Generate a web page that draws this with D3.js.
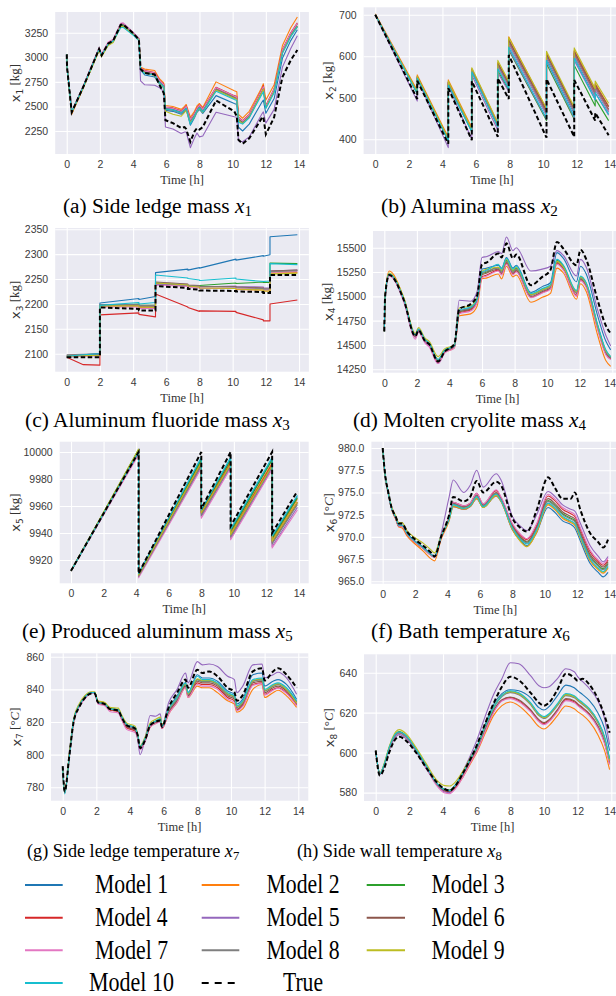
<!DOCTYPE html>
<html>
<head>
<meta charset="utf-8">
<script src="https://d3js.org/d3.v7.min.js"></script>
<style>
  body { margin: 0; background: #fff; }
  svg { display: block; }
</style>
</head>
<body>
<svg id="fig" width="616" height="996"></svg>
<script>
// ---------- shared series info ----------
const modelNames = ["Model 1","Model 2","Model 3","Model 4","Model 5","Model 6","Model 7","Model 8","Model 9","Model 10"];
const modelColors = ["#1f77b4","#ff7f0e","#2ca02c","#d62728","#9467bd","#8c564b","#e377c2","#7f7f7f","#bcbd22","#17becf"];
const hourTicks = [0, 2, 4, 6, 8, 10, 12, 14];

// ---------- (a) side ledge mass x1 [kg] ----------
const tA = [0,0.02,0.3,1.0,1.95,2.1,2.5,2.8,3.25,3.4,4.0,4.35,4.45,4.7,5.3,5.6,5.85,5.95,6.4,6.9,7.1,7.2,7.45,7.7,7.85,8.0,8.2,9.0,10.1,10.25,10.35,10.6,11.0,11.75,11.85,12.0,12.5,13.0,13.5,13.9];
const trueA = [3030,2900,2440,2700,3085,3020,3140,3170,3330,3335,3245,3180,2880,2840,2825,2715,2635,2360,2330,2280,2290,2270,2140,2245,2280,2265,2290,2560,2450,2400,2160,2120,2175,2380,2395,2215,2390,2800,2970,3075];
const a1 = [3030,2900,2440,2700,3090,3020,3140,3170,3320,3325,3235,3175,2870,2820,2800,2725,2690,2460,2450,2420,2450,2470,2310,2385,2440,2470,2430,2610,2530,2520,2290,2250,2320,2540,2565,2430,2580,2990,3170,3280];
const a2 = [3030,2900,2420,2690,3080,3015,3135,3165,3325,3330,3240,3185,2900,2880,2865,2780,2740,2510,2500,2470,2500,2520,2390,2450,2505,2530,2490,2750,2660,2650,2420,2380,2450,2690,2730,2565,2720,3120,3300,3410];
const a3 = [3030,2900,2445,2705,3080,3015,3130,3160,3320,3325,3235,3180,2885,2850,2830,2750,2710,2480,2470,2440,2470,2490,2355,2415,2470,2500,2460,2675,2590,2580,2370,2335,2400,2650,2685,2495,2660,3055,3225,3320];
const a4 = [3030,2900,2440,2705,3090,3025,3145,3175,3335,3340,3250,3190,2890,2865,2845,2765,2725,2495,2485,2455,2485,2505,2370,2430,2485,2515,2475,2695,2610,2600,2390,2355,2420,2670,2710,2510,2680,3080,3250,3350];
const a5 = [3030,2900,2440,2700,3085,3020,3140,3170,3340,3345,3250,3190,2760,2720,2715,2690,2650,2290,2270,2225,2240,2240,2080,2180,2230,2190,2200,2440,2395,2390,2150,2140,2190,2420,2445,2330,2470,2900,3090,3220];
const a6 = [3030,2900,2442,2703,3088,3022,3142,3172,3332,3337,3247,3188,2885,2855,2835,2755,2715,2485,2478,2448,2478,2498,2362,2422,2478,2508,2468,2685,2600,2590,2380,2345,2410,2660,2695,2500,2670,3070,3240,3340];
const a7 = [3030,2900,2445,2712,3100,3035,3155,3185,3345,3350,3255,3195,2890,2860,2840,2760,2720,2490,2480,2450,2480,2500,2365,2425,2480,2510,2470,2690,2605,2595,2385,2350,2415,2665,2700,2505,2675,3075,3245,3345];
const a8 = [3030,2900,2442,2702,3085,3020,3138,3168,3328,3333,3243,3185,2880,2845,2825,2745,2705,2470,2460,2430,2460,2480,2345,2405,2460,2490,2450,2670,2585,2575,2360,2330,2395,2645,2680,2490,2655,3050,3220,3315];
const a9 = [3030,2900,2435,2690,3070,3005,3120,3150,3310,3315,3230,3175,2875,2840,2815,2735,2695,2450,2420,2400,2440,2460,2330,2395,2450,2480,2440,2665,2580,2570,2355,2325,2390,2640,2675,2485,2650,3045,3215,3310];
const a10 = [3030,2900,2440,2700,3085,3020,3135,3165,3300,3305,3225,3170,2880,2835,2820,2740,2700,2475,2465,2435,2465,2480,2320,2400,2455,2485,2445,2655,2570,2560,2340,2320,2385,2620,2650,2480,2640,3040,3210,3310];
const ticksA = [2250, 2500, 2750, 3000, 3250];

// ---------- (b) alumina mass x2 [kg] ----------
const tB = [0,2.5,2.5,4.35,4.35,5.75,5.75,7.3,7.3,7.95,7.95,10.2,10.2,11.85,11.85,13.1,13.1,13.9];
const trueB = [700,497,541,389,523,398,540,406,547,497,603,404,545,406,543,445,464,410];
const b1 = [700,511,548,398,535,420,565,432,575,527,628,458,595,462,600,502,520,465];
const b2 = [702,518,555,405,543,428,570,438,585,538,647,472,608,475,615,518,535,480];
const b3 = [700,510,547,397,532,419,563,430,565,518,615,445,582,448,578,480,498,445];
const b4 = [700,513,550,400,537,422,567,435,580,532,637,466,602,470,608,510,528,472];
const b5 = [700,492,545,380,528,400,555,422,560,515,618,448,588,452,590,495,512,458];
const b6 = [700,514,551,401,538,423,568,436,583,535,640,470,605,473,612,515,532,478];
const b7 = [700,512,549,399,536,421,566,434,575,528,630,460,598,465,603,505,522,467];
const b8 = [700,512,549,399,536,421,566,433,578,530,633,463,600,467,605,508,525,470];
const b9 = [700,515,552,402,540,425,572,440,590,540,645,475,612,478,620,522,540,487];
const b10 = [700,510,547,397,530,418,562,430,570,522,622,450,590,455,595,495,512,460];
const ticksB = [400, 500, 600, 700];

// ---------- (c) aluminum fluoride mass x3 [kg] ----------
const tC = [0,1.0,2.0,2.0,4.35,4.35,5.35,5.35,7.3,7.3,8.0,8.0,10.2,10.2,11.85,11.85,12.25,12.25,13.9];
const trueC = [2093,2093,2093,2193,2190,2187,2187,2236,2232,2230,2229,2227,2226,2225,2224,2222,2222,2258,2258];
const c1 = [2092,2098,2101,2202,2211,2209,2215,2263,2270,2268,2273,2272,2290,2288,2297,2296,2299,2335,2339];
const c2 = [2095,2096,2097,2195,2196,2193,2193,2241,2237,2235,2234,2232,2231,2229,2228,2226,2226,2262,2263];
const c3 = [2094,2096,2098,2196,2200,2198,2197,2240,2237,2236,2237,2237,2242,2241,2244,2243,2243,2282,2281];
const c4 = [2093,2078,2077,2178,2182,2179,2174,2220,2194,2193,2185,2186,2185,2183,2168,2166,2166,2200,2208];
const c5 = [2097,2098,2099,2197,2197,2195,2194,2240,2237,2235,2235,2234,2236,2235,2234,2232,2232,2266,2268];
const c6 = [2096,2097,2098,2198,2198,2196,2196,2244,2240,2238,2237,2235,2235,2234,2232,2230,2230,2266,2268];
const c7 = [2094,2095,2096,2194,2194,2191,2191,2238,2235,2233,2232,2231,2232,2231,2230,2228,2228,2264,2265];
const c8 = [2098,2099,2100,2199,2199,2197,2197,2243,2239,2237,2236,2235,2234,2233,2231,2230,2230,2265,2267];
const c9 = [2095,2096,2097,2196,2196,2194,2193,2242,2238,2236,2234,2232,2231,2230,2228,2226,2226,2260,2262];
const c10 = [2095,2098,2100,2197,2203,2200,2203,2258,2252,2251,2248,2247,2252,2250,2245,2245,2246,2281,2279];
const ticksC = [2100, 2150, 2200, 2250, 2300, 2350];

// ---------- (d) molten cryolite mass x4 [kg] ----------
const tD = [0,0.05,0.3,1.2,1.9,2.1,2.5,2.75,3.3,3.7,4.3,4.6,5.3,5.7,6.0,6.3,7.0,7.2,7.5,7.9,8.1,9.0,9.7,10.2,10.6,11.0,11.8,12.05,12.4,13.1,13.6,13.9];
const trueD = [14640,15000,15220,14960,14590,14650,14540,14510,14330,14430,14510,14870,14920,15010,15330,15350,15440,15400,15545,15390,15430,15115,15200,15270,15560,15490,15320,15480,15380,14960,14700,14620];
const dm1 = [14640,15000,15225,14965,14600,14660,14545,14515,14340,14440,14490,14850,14880,14980,15280,15290,15320,15290,15400,15290,15320,15040,15100,15140,15450,15390,15150,15310,15230,14800,14540,14450];
const dm2 = [14640,15010,15260,14980,14600,14660,14550,14500,14320,14420,14470,14800,14820,14900,15180,15190,15230,15180,15310,15200,15220,14940,14990,15030,15290,15240,14970,15130,15050,14600,14340,14280];
const dm3 = [14640,15000,15230,14970,14605,14665,14555,14520,14350,14445,14490,14840,14870,14960,15230,15250,15300,15260,15370,15260,15290,15020,15070,15110,15370,15310,15050,15200,15130,14700,14440,14370];
const dm4 = [14640,15000,15225,14960,14580,14645,14535,14500,14320,14425,14480,14830,14860,14950,15200,15220,15270,15230,15340,15230,15260,14990,15040,15080,15340,15280,15010,15170,15100,14670,14410,14355];
const dm5 = [14640,15000,15220,14955,14580,14640,14530,14495,14310,14420,14490,14960,14950,15050,15400,15410,15460,15440,15610,15470,15500,15260,15280,15310,15470,15420,15210,15380,15300,14860,14600,14490];
const dm6 = [14640,15000,15225,14965,14590,14655,14545,14510,14330,14430,14485,14840,14870,14960,15220,15240,15280,15240,15350,15240,15270,15000,15050,15090,15350,15290,15030,15180,15110,14680,14420,14360];
const dm7 = [14640,14990,15210,14940,14560,14630,14520,14480,14310,14415,14470,14820,14850,14940,15190,15210,15260,15220,15330,15220,15250,14985,15035,15075,15330,15270,15000,15160,15090,14660,14400,14350];
const dm8 = [14640,15000,15230,14970,14600,14660,14550,14515,14340,14440,14485,14850,14880,14970,15240,15260,15290,15250,15360,15250,15280,15010,15060,15100,15360,15300,15040,15190,15120,14690,14430,14370];
const dm9 = [14640,15005,15240,14985,14620,14680,14570,14540,14380,14460,14500,14880,14900,14990,15260,15280,15300,15270,15380,15270,15300,15020,15070,15110,15360,15300,15050,15200,15130,14700,14440,14380];
const dm10 = [14640,15000,15230,14970,14605,14665,14555,14520,14350,14445,14490,14860,14890,14970,15250,15270,15330,15280,15390,15280,15310,15030,15080,15120,15380,15320,15060,15210,15140,14710,14450,14380];
const ticksD = [14250, 14500, 14750, 15000, 15250, 15500];

// ---------- (e) produced aluminum mass x5 [kg] ----------
const tE = [0,4.15,4.15,8.0,8.0,9.8,9.8,12.35,12.35,13.9];
const trueE = [9912,10000,9910,10000,9958,10000,9945,10000,9940,9971];
const e1 = [9912,10000,9910,9995,9957,9995,9942,9995,9937,9967];
const e2 = [9912,10001,9909,9993,9955,9993,9940,9992,9935,9965];
const e3 = [9912,10002,9909,9994,9956,9994,9941,9994,9936,9966];
const e4 = [9912,10000,9909,9992,9955,9992,9939,9991,9934,9963];
const e5 = [9912,9999,9908,9989,9952,9989,9936,9988,9930,9959];
const e6 = [9912,10000,9909,9991,9954,9991,9938,9990,9933,9962];
const e7 = [9912,9998,9907,9988,9951,9988,9935,9987,9929,9957];
const e8 = [9912,10000,9908,9990,9953,9990,9937,9989,9932,9961];
const e9 = [9912,10002,9909,9992,9955,9991,9939,9990,9934,9963];
const e10 = [9912,10000,9910,9996,9957,9996,9943,9996,9938,9968];
const ticksE = [9920, 9940, 9960, 9980, 10000];

// ---------- (f) bath temperature x6 [°C] ----------
const tF = [0,0.15,0.35,0.55,0.8,1.0,1.2,1.5,2.0,2.5,3.0,3.2,3.6,4.1,4.35,5.0,5.4,5.8,6.2,7.0,7.3,8.0,8.5,8.9,9.5,10.2,10.6,11.1,11.6,11.85,12.2,12.8,13.3,13.6,13.9];
const trueF = [980,977.0,975.0,973.3,972.3,971.5,971.5,970.6,969.7,969.0,968.2,967.8,970.0,972.5,974.5,974.0,974.5,976.3,975.0,976.2,975.8,972.1,971.0,970.6,973.0,976.7,975.6,974.3,974.3,975.0,973.0,970.4,969.4,968.8,969.7];
const f1 = [980,976.9,974.9,973.2,972.1,971.3,971.3,970.4,969.5,968.8,968.0,967.7,969.9,971.9,973.4,973.1,973.4,974.3,973.3,974.6,974.0,970.8,969.6,969.0,970.5,973.3,972.8,971.8,971.4,971.0,969.5,967.0,966.0,965.5,966.0];
const f2 = [980,976.9,974.8,973.1,972.0,971.1,971.0,970.1,969.2,968.4,967.5,967.3,969.7,971.8,973.4,973.1,973.4,974.3,973.3,974.6,974.0,970.8,969.5,968.9,970.5,973.6,973.1,972.1,971.6,971.3,969.8,967.3,966.3,965.9,966.5];
const f3 = [980,977.0,974.9,973.2,972.2,971.3,971.3,970.4,969.5,968.8,968.0,967.8,970.0,972.1,973.7,973.3,973.6,974.6,973.5,974.9,974.2,971.2,969.9,969.4,971.0,974.1,973.6,972.6,972.1,971.8,970.3,967.8,966.8,966.4,967.0];
const f4 = [980,977.0,974.9,973.2,972.1,971.2,971.2,970.3,969.4,968.7,967.9,967.7,969.9,972.3,973.9,973.5,973.8,974.9,973.7,975.2,974.4,971.4,970.2,969.7,971.3,974.6,974.1,973.1,972.6,972.3,970.8,968.3,967.2,966.8,967.4];
const f5 = [980,977.0,974.9,973.2,972.2,971.3,971.3,970.4,969.5,968.8,968.0,967.8,970.3,974.5,976.4,975.0,975.8,977.5,975.6,977.1,976.4,972.3,971.2,970.7,972.5,975.1,974.6,973.6,973.1,972.9,971.5,969.0,967.8,967.2,967.8];
const f6 = [980,977.0,974.9,973.2,972.1,971.2,971.2,970.3,969.4,968.7,967.9,967.7,969.9,972.2,973.8,973.4,973.7,974.7,973.6,975.0,974.3,971.3,970.0,969.5,971.1,974.3,973.8,972.8,972.3,972.0,970.5,968.0,967.0,966.6,967.2];
const f7 = [980,977.0,974.9,973.2,972.1,971.2,971.2,970.3,969.4,968.7,967.9,967.7,969.9,972.3,973.9,973.5,973.8,974.9,973.7,975.3,974.5,971.5,970.3,969.8,971.5,974.8,974.3,973.3,972.8,972.5,971.0,968.5,967.4,967.0,967.6];
const f8 = [980,977.0,974.9,973.2,972.2,971.3,971.3,970.4,969.5,968.8,968.0,967.8,970.0,972.1,973.7,973.3,973.6,974.6,973.5,974.9,974.2,971.1,969.8,969.3,970.9,974.0,973.5,972.5,972.0,971.7,970.2,967.7,966.7,966.3,966.9];
const f9 = [980,977.0,975.0,973.4,972.4,971.6,971.6,970.7,969.9,969.3,968.5,968.2,970.1,972.0,973.5,973.2,973.5,974.4,973.3,974.7,974.0,970.9,969.5,968.9,970.6,973.7,973.2,972.2,971.7,971.4,969.9,967.4,966.4,966.0,966.6];
const f10 = [980,977.0,974.9,973.2,972.2,971.3,971.3,970.4,969.5,968.8,968.0,967.8,970.0,972.0,973.6,973.2,973.5,974.5,973.4,974.8,974.1,971.0,969.7,969.2,970.8,973.8,973.3,972.3,971.8,971.5,970.0,967.5,966.5,966.1,966.7];
const ticksF = [965, 967.5, 970, 972.5, 975, 977.5, 980];

// ---------- (g) side ledge temperature x7 [°C] ----------
const tG = [0,0.12,0.4,0.65,1.0,1.3,1.7,1.9,2.1,2.5,2.8,3.3,3.5,3.8,4.3,4.45,4.6,4.9,5.2,5.5,5.8,5.9,6.3,6.8,7.3,7.45,8.0,8.3,8.7,9.2,9.8,10.2,10.35,10.7,11.3,11.85,12.0,12.5,12.8,13.3,13.9];
const trueG = [793,777.5,800,820,829.5,834.5,837.5,837.5,832,831,828,827,823,818,816,812,804,809,818,820,821,817,829,838,846,841,852,850,851,848,841,838.5,833,836.5,851,853,845.5,851,853,849,841];
const g1 = [792,777,800,821,830.5,835,838,838,832,831,828,827,823,818,816,812,805,810,818,820,821.5,817,828,836,844,838,849,847,847,845,839,837,831,834,849,850,842,845,846,843,834];
const g2 = [792,776.5,799,820,830,834.5,837.5,837.5,831.5,830.5,827.5,826.5,822,817,815,811,804,809,817,819,820.5,816,825,832,841,835,842,841,841,838,833,831,826,828,840,843,835,838,839.5,836,829];
const g3 = [792,777,800,821,830.5,835.5,838,838,832.5,831.5,828.5,827.5,823.5,818.5,816.5,812.5,805,810,818.5,820.5,822,817.5,827,834,843,837,846,845,845,843,837,835,829,832,845,846,839,842,843,840,832.5];
const g4 = [792,777,799.5,820.5,830,835,837.5,837.5,831.5,830.5,827.5,826.5,822,816.5,814.5,810.5,803.5,808.5,817,819.5,820.5,816,826,833,842,836,844,843,843,841,835,833,827.5,830,843,844,837,840,841,838,830.5];
const g5 = [792,777,800,821,830.5,835,838,838,832,831,828,827,823,817.5,815,810,800,810,824,823.5,825,818,832,840,850,844,857,855,855.5,854,848,846,838,842,855,855.5,847,849,850.5,847,837];
const g6 = [792,777,800,820.5,830,835,837.5,837.5,832,831,828,826.5,822.5,817,815,811,804,809,817.5,819.5,821,816.5,826,833,842,836,845,844,844,842,836,834,828,831,844,845,838,841,842,839,831];
const g7 = [792,776.5,799,820,829.5,834,837.5,837.5,831,830,826.5,825.5,821.5,815.5,813.5,810,803,808,817,819,820,816,825,832,841,835,843,842,842,840,834,832,827,829.5,842.5,843.5,836.5,839.5,840.5,837.5,830];
const g8 = [792,777,800,821,830.5,835,838,838,832,831,828,827,823,818,816,812,804.5,809.5,818,820,821.5,817,827,834,843,837,846,845,845,843,837,835,829,832,845,846,839,842,843,840,832];
const g9 = [792,777,801,822,831.5,836,838.5,838.5,833,832,829,828.5,824.5,819.5,817.5,813,805.5,811,819.5,821.5,823,818.5,828,835,843.5,837.5,846.5,845.5,845.5,843.5,837.5,835.5,829.5,832.5,845.5,846.5,839.5,842.5,843.5,840,831.5];
const g10 = [792,776,799,821,830.5,835,838,838,832,831,828,827.5,823.5,818.5,816.5,812.5,805,810,818.5,820.5,822,817.5,828,835,844,838,848,846,846,844,838,836,830,833,846,847,840,843,844,841,833];
const ticksG = [780, 800, 820, 840, 860];

// ---------- (h) side wall temperature x8 [°C] ----------
const tH = [0,0.25,0.5,0.8,1.2,1.4,1.8,2.4,3.0,3.6,4.1,4.4,4.7,5.2,5.7,6.0,6.5,7.0,7.5,8.0,8.5,9.2,9.7,10.0,10.3,10.8,11.3,11.8,12.0,12.3,12.7,13.2,13.6,13.9];
const trueH = [601,588.5,592,600,607,608,606,600,592.5,585.5,581.8,581,583,590,598,603.5,614.5,624.5,633,638,636.3,630,625,623.5,625,631.5,639.5,637.5,636,637,634,627,618.5,610];
const h1 = [601,589.5,593.5,602,609,610,608,601,593,584.5,581,580.7,583,590,598.5,603,614,624,629.5,631.5,631,627.5,622.5,621.3,623,628.5,633.8,632.5,631,629,626,620,612,601];
const h2 = [601,589.5,593.5,602,609,610,608,601,593,584.5,581,580.5,582,588,595.5,600,609.5,618.5,623.5,625.3,623.5,618,613,611.8,613.5,618.5,623.3,622,620.5,618.8,615.5,609,601,591.5];
const h3 = [601,589.5,594,602.5,609.5,610.5,608.5,601.5,593.5,585,581.7,581.3,583.5,590,598,602.5,613,622.5,628.5,630.5,629.5,624.5,619,617.5,619,624,629,628,626.5,624.5,621.5,615.5,607.5,596.5];
const h4 = [601,589.5,593.5,602,609,610,608,601,593,584.3,580.8,580.3,582.2,588.5,596.5,601,611,620.5,626,627.5,626,621,616,614.5,616,621,626.5,625.5,624,622,619,613,605,594.5];
const h5 = [601,589,593,601,608,609,607,600.5,592,584.5,580.3,580,583,591,600,606,618,629,637,645,644.5,638.5,633.5,632.5,633,637,642,640.5,638,635.5,632,626,617,604];
const h6 = [601,589.5,593.5,602,609,610,608,601,593,584.5,581,580.5,582.5,589,597,601.5,611.5,621,626.5,627.8,626.5,621.5,616.5,615,616.5,621.5,627,626,624.5,622.5,619.5,613.5,605.5,595];
const h7 = [601,589.5,593.5,602,609,610,608,600.8,592.5,583.8,579.8,579.5,581.5,588,596,600.5,610.5,620,625.8,627,625.5,620.5,615.5,614,615.5,620.5,626,625,623.5,621.5,618.5,612.5,604.5,594];
const h8 = [601,589.5,593.5,602,609,610,608,601,593,584.8,581.3,581,583.2,590,598,602.5,612.5,622,628,630,629,624,618.5,617,618.5,623.5,628.5,627.5,626,624,621,615,607,596];
const h9 = [601,589.5,594.5,603,610.5,611.5,609.5,602.5,594.5,586.5,583.5,583.3,585,591,598.5,602.5,613,622.5,628.5,630.5,629.5,624.5,619,617.5,619,624,629,628,626.5,624.5,621.5,615.5,607.5,596];
const h10 = [601,589.5,594,602.5,609.5,610.3,608.5,601.5,593.5,585,581.5,581,583.5,590,598,602.5,613,622.5,628.5,631,630,625,619.5,618,619.5,624.5,629.6,628.5,627,625,622,616,608,597];
const ticksH = [580, 600, 620, 640];

// ---------- layout ----------
const panels = [
  { t: tA, truth: trueA, models: [a1,a2,a3,a4,a5,a6,a7,a8,a9,a10], yTicks: ticksA, fmt: "d", curve: d3.curveLinear,
    left: 55.2, right: 308.9, top: 12, bottom: 154, yDomain: [2016, 3461], ySub: "1", unit: "kg", labX: 15.5,
    caption: "(a) Side ledge mass ", cx0: 63, cx1: 252, cy: 213, cs: 20 },
  { t: tB, truth: trueB, models: [b1,b2,b3,b4,b5,b6,b7,b8,b9,b10], yTicks: ticksB, fmt: "d", curve: d3.curveLinear,
    left: 363.6, right: 620.3, top: 7.3, bottom: 154, yDomain: [364.6, 717.8], ySub: "2", unit: "kg", labX: 328.5,
    caption: "(b) Alumina mass ", cx0: 381, cx1: 558, cy: 213, cs: 20 },
  { t: tC, truth: trueC, models: [c1,c2,c3,c4,c5,c6,c7,c8,c9,c10], yTicks: ticksC, fmt: "d", curve: d3.curveLinear,
    left: 55.2, right: 308.9, top: 228, bottom: 371.7, yDomain: [2063.8, 2352.6], ySub: "3", unit: "kg", labX: 15.8,
    caption: "(c) Aluminum fluoride mass ", cx0: 25, cx1: 290, cy: 427, cs: 20 },
  { t: tD, truth: trueD, models: [dm1,dm2,dm3,dm4,dm5,dm6,dm7,dm8,dm9,dm10], yTicks: ticksD, fmt: "d", curve: d3.curveMonotoneX,
    left: 373, right: 622, top: 231, bottom: 372.7, yDomain: [14215, 15672], ySub: "4", unit: "kg", labX: 328,
    caption: "(d) Molten cryolite mass ", cx0: 353, cx1: 586, cy: 427, cs: 20 },
  { t: tE, truth: trueE, models: [e1,e2,e3,e4,e5,e6,e7,e8,e9,e10], yTicks: ticksE, fmt: "d", curve: d3.curveLinear,
    left: 59.7, right: 308.7, top: 441.7, bottom: 583.3, yDomain: [9902.8, 10007.6], ySub: "5", unit: "kg", labX: 15.8,
    caption: "(e) Produced aluminum mass ", cx0: 22, cx1: 293, cy: 638, cs: 20 },
  { t: tF, truth: trueF, models: [f1,f2,f3,f4,f5,f6,f7,f8,f9,f10], yTicks: ticksF, fmt: ".1f", curve: d3.curveMonotoneX,
    left: 371.4, right: 619.3, top: 441.7, bottom: 583.7, yDomain: [964.73, 980.71], ySub: "6", unit: "C", labX: 329.7,
    caption: "(f) Bath temperature ", cx0: 371, cx1: 570, cy: 638, cs: 20 },
  { t: tG, truth: trueG, models: [g1,g2,g3,g4,g5,g6,g7,g8,g9,g10], yTicks: ticksG, fmt: "d", curve: d3.curveMonotoneX,
    left: 51, right: 308.3, top: 653.3, bottom: 800.7, yDomain: [771.8, 862.1], ySub: "7", unit: "C", labX: 16,
    caption: "(g) Side ledge temperature ", cx0: 27, cx1: 240, cy: 857, cs: 18.5 },
  { t: tH, truth: trueH, models: [h1,h2,h3,h4,h5,h6,h7,h8,h9,h10], yTicks: ticksH, fmt: "d", curve: d3.curveMonotoneX,
    left: 364, right: 621.3, top: 654.3, bottom: 801, yDomain: [575.8, 649.2], ySub: "8", unit: "C", labX: 329.7,
    caption: "(h) Side wall temperature ", cx0: 297, cx1: 502, cy: 857, cs: 18.5 }
];

const SERIF = "'Liberation Serif', 'Times New Roman', serif";
const SANS = "'Liberation Sans', Arial, sans-serif";
const MATH = "'DejaVu Sans', 'Liberation Sans', sans-serif";
const PAGE_W = 616;

const svg = d3.select("#fig");
svg.append("rect").attr("width", PAGE_W).attr("height", 996).attr("fill", "#ffffff");
const defs = svg.append("defs");

// stretch or squeeze a text element horizontally so it spans [x0, x1]
function spanText(sel, x0, x1) {
  const bb = sel.node().getBBox();
  const s = (x1 - x0) / bb.width;
  sel.attr("transform", `translate(${x0},0) scale(${s},1) translate(${-bb.x},0)`);
}

panels.forEach((p, i) => {
  p.models.forEach(m => { if (m.length !== p.t.length) throw new Error("length mismatch in panel " + i); });
  if (p.truth.length !== p.t.length) throw new Error("truth length mismatch in panel " + i);

  const x = d3.scaleLinear().domain([-0.695, 14.595]).range([p.left, p.right]);
  const y = d3.scaleLinear().domain(p.yDomain).range([p.bottom, p.top]);
  const g = svg.append("g");

  defs.append("clipPath").attr("id", "clip" + i)
    .append("rect").attr("x", p.left).attr("y", p.top)
    .attr("width", p.right - p.left).attr("height", p.bottom - p.top);

  g.append("rect").attr("x", p.left).attr("y", p.top)
    .attr("width", p.right - p.left).attr("height", p.bottom - p.top)
    .attr("fill", "#eaeaf2");

  // x axis with vertical grid lines
  const xa = g.append("g").attr("transform", `translate(0,${p.bottom})`)
    .call(d3.axisBottom(x).tickValues(hourTicks).tickFormat(d3.format("d"))
      .tickSize(-(p.bottom - p.top)).tickPadding(6.5));
  // y axis with horizontal grid lines
  const ya = g.append("g").attr("transform", `translate(${p.left},0)`)
    .call(d3.axisLeft(y).tickValues(p.yTicks).tickFormat(d3.format(p.fmt))
      .tickSize(-(p.right - p.left)).tickPadding(7));
  [xa, ya].forEach(ax => {
    ax.select(".domain").remove();
    ax.selectAll(".tick line").attr("stroke", "#ffffff").attr("stroke-width", 1.1);
    ax.selectAll(".tick text").attr("fill", "#3a3a3a")
      .style("font-family", SANS).style("font-size", "10.5px");
  });
  // keep the last hour label inside the page edge
  xa.selectAll(".tick").each(function (d) {
    const txt = d3.select(this).select("text");
    const w = txt.node().getComputedTextLength();
    const overflow = x(d) + w / 2 - (PAGE_W - 0.5);
    if (overflow > 0) txt.attr("x", -overflow);
  });

  const line = d3.line().curve(p.curve).x((d, k) => x(p.t[k])).y(d => y(d));
  const lines = g.append("g").attr("clip-path", `url(#clip${i})`);
  p.models.forEach((m, k) => {
    lines.append("path").attr("d", line(m)).attr("fill", "none")
      .attr("stroke", modelColors[k]).attr("stroke-width", 1.1)
      .attr("stroke-linejoin", "round");
  });
  lines.append("path").attr("d", line(p.truth)).attr("fill", "none")
    .attr("stroke", "#000").attr("stroke-width", 2)
    .attr("stroke-dasharray", "4.5,2.5");

  // x label
  g.append("text").attr("x", (p.left + p.right) / 2)
    .attr("y", p.bottom + 30).attr("text-anchor", "middle")
    .style("font-family", SERIF).style("font-size", "12.5px").attr("fill", "#333")
    .text("Time [h]");

  // y label
  const yl = g.append("text")
    .attr("transform", `translate(${p.labX},${(p.top + p.bottom) / 2}) rotate(-90)`)
    .attr("text-anchor", "middle").attr("dy", "0.35em")
    .style("font-family", SERIF).style("font-size", "13px").attr("fill", "#333");
  yl.append("tspan").style("font-family", MATH).text("x");
  yl.append("tspan").attr("dy", "0.3em").style("font-family", MATH).style("font-size", "9px").text(p.ySub);
  if (p.unit === "kg") {
    yl.append("tspan").attr("dy", "-0.3em").text(" [kg]");
  } else {
    yl.append("tspan").attr("dy", "-0.3em").text(" [°");
    yl.append("tspan").style("font-style", "italic").text("C");
    yl.append("tspan").text("]");
  }

  // caption
  const cap = svg.append("text").attr("x", 0).attr("y", p.cy)
    .style("font-family", SERIF).style("font-size", p.cs + "px").attr("fill", "#000");
  cap.append("tspan").text(p.caption);
  cap.append("tspan").style("font-style", "italic").text("x");
  cap.append("tspan").attr("dy", "0.25em").style("font-size", (p.cs * 0.7) + "px").text(p.ySub);
  spanText(cap, p.cx0, p.cx1);
});

// ---------- legend ----------
const legendNames = modelNames.concat(["True"]);
const legendColors = modelColors.concat(["#000"]);
const colLine = [[25, 62.7], [201.7, 239.3], [366.7, 405]];
const colText = [131.5, 303, 468];
const rowY = [885, 917.7, 950.3, 983];
legendNames.forEach((name, k) => {
  const r = Math.floor(k / 3), c = k % 3;
  const isTrue = name === "True";
  svg.append("line")
    .attr("x1", colLine[c][0]).attr("x2", colLine[c][1])
    .attr("y1", rowY[r]).attr("y2", rowY[r])
    .attr("stroke", legendColors[k]).attr("stroke-width", isTrue ? 2.2 : 2)
    .attr("stroke-dasharray", isTrue ? "7,6" : null);
  const w = isTrue ? 40 : (name.length > 7 ? 85 : 73);
  const t = svg.append("text").attr("x", 0).attr("y", rowY[r] + 8.5)
    .style("font-family", SERIF).style("font-size", "27px").attr("fill", "#000")
    .text(name);
  spanText(t, colText[c] - w / 2, colText[c] + w / 2);
});
</script>
</body>
</html>
